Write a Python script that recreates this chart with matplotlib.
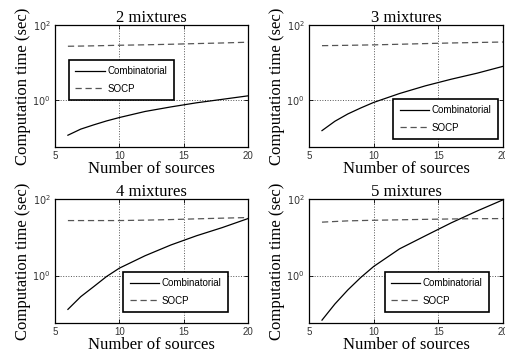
import matplotlib
matplotlib.use("Agg")
import matplotlib.pyplot as plt
from matplotlib.ticker import FixedLocator, NullLocator

plt.rcParams["mathtext.fontset"] = "custom"
plt.rcParams["mathtext.rm"] = "Liberation Sans"
plt.rcParams["mathtext.default"] = "regular"

SERIF = "Liberation Serif"
SANS = "Liberation Sans"

# values (seconds, log scale)
sources = [6, 7, 8, 9, 10, 12, 14, 16, 18, 20]
titles = ["2 mixtures", "3 mixtures", "4 mixtures", "5 mixtures"]
comb_2 = [0.117, 0.17, 0.22, 0.28, 0.345, 0.50, 0.66, 0.85, 1.05, 1.30]
comb_3 = [0.155, 0.275, 0.43, 0.62, 0.87, 1.5, 2.4, 3.6, 5.2, 7.9]
comb_4 = [0.13, 0.28, 0.51, 0.94, 1.56, 3.3, 6.3, 11.0, 18.0, 31.0]
comb_5 = [0.068, 0.18, 0.42, 0.89, 1.73, 5.0, 11.0, 24.0, 49.0, 96.0]
socp_2 = [27.0, 27.3, 27.7, 28.2, 28.7, 29.5, 30.5, 31.8, 33.0, 34.6]
socp_3 = [28.0, 28.3, 28.6, 29.0, 29.4, 30.5, 31.8, 33.0, 34.0, 35.0]
socp_4 = [27.5, 27.5, 27.5, 27.5, 27.5, 28.2, 29.2, 30.5, 31.8, 33.0]
socp_5 = [25.0, 26.0, 27.0, 27.5, 28.0, 28.8, 29.6, 30.3, 30.8, 31.0]
comb = [comb_2, comb_3, comb_4, comb_5]
socp = [socp_2, socp_3, socp_4, socp_5]

fig = plt.figure(figsize=(5.05, 3.55), dpi=100)
positions = [
    [0.109, 0.586, 0.382, 0.344],
    [0.612, 0.586, 0.384, 0.344],
    [0.109, 0.090, 0.382, 0.349],
    [0.612, 0.090, 0.384, 0.349],
]
legend_spots = [
    ("upper left", (0.073, 0.713)),
    ("lower right", (0.974, 0.066)),
    ("lower right", (0.896, 0.089)),
    ("lower right", (0.928, 0.089)),
]

for i in range(4):
    ax = fig.add_axes(positions[i])
    ax.plot(sources, comb[i], "-", color="black", lw=0.9, label="Combinatorial")
    ax.plot(sources, socp[i], "--", color="#555555", lw=0.9, dashes=(5, 3),
            label="SOCP")
    ax.set_yscale("log")
    ax.set_xlim(5, 20)
    ax.set_ylim(0.057, 100)
    ax.xaxis.set_major_locator(FixedLocator([5, 10, 15, 20]))
    ax.yaxis.set_major_locator(FixedLocator([1, 100]))
    ax.yaxis.set_minor_locator(NullLocator())
    ax.set_yticklabels([r"$10^{0}$", r"$10^{2}$"])
    ax.tick_params(direction="in", length=3, width=0.6, labelsize=7,
                   labelcolor="#333333", top=True, right=True, pad=3)
    for lab in ax.get_xticklabels():
        lab.set_family(SANS)
    ax.grid(True, which="major", linestyle=":", color="#555555", lw=0.7)
    for sp in ax.spines.values():
        sp.set_linewidth(0.9)
    ax.set_title(titles[i], family=SERIF, fontsize=12, pad=2)
    ax.set_xlabel("Number of sources", family=SERIF, fontsize=12, labelpad=0)
    ax.set_ylabel("Computation time (sec)", family=SERIF, fontsize=12,
                  labelpad=1)
    loc, anchor = legend_spots[i]
    leg = ax.legend(loc=loc, bbox_to_anchor=anchor, borderaxespad=0,
                    prop={"family": SANS, "size": 7}, handlelength=3.0,
                    handletextpad=0.3, labelspacing=0.75, borderpad=0.65,
                    fancybox=False, framealpha=1, edgecolor="black")
    leg.get_frame().set_linewidth(1.2)

fig.savefig("out.png", dpi=100)
